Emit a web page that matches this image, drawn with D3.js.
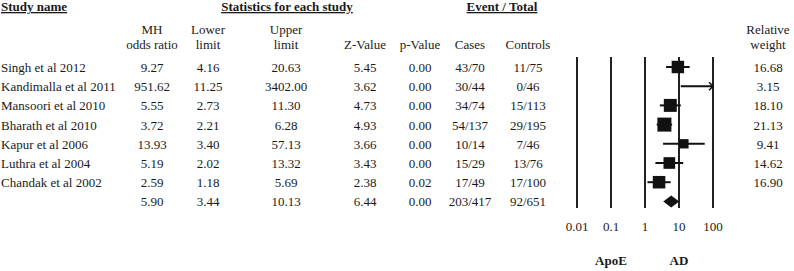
<!DOCTYPE html>
<html>
<head>
<meta charset="utf-8">
<script src="https://cdn.jsdelivr.net/npm/d3@7"></script>
<style>
  body { margin: 0; background: #fff; }
  text { font-family: "Liberation Serif", "Times New Roman", serif; fill: #1a1a1a; }
</style>
</head>
<body>
<div id="graph"></div>
<script>
const width = 794
const height = 271

// data
const studies = ['Singh et al 2012', 'Kandimalla et al 2011', 'Mansoori et al 2010', 'Bharath et al 2010',
  'Kapur et al 2006', 'Luthra et al 2004', 'Chandak et al 2002']
const oddsRatio = [9.27, 951.62, 5.55, 3.72, 13.93, 5.19, 2.59]
const lower = [4.16, 11.25, 2.73, 2.21, 3.40, 2.02, 1.18]
const upper = [20.63, 3402.00, 11.30, 6.28, 57.13, 13.32, 5.69]
const zValue = [5.45, 3.62, 4.73, 4.93, 3.66, 3.43, 2.38]
const pValue = [0.00, 0.00, 0.00, 0.00, 0.00, 0.00, 0.02]
const cases = ['43/70', '30/44', '34/74', '54/137', '10/14', '15/29', '17/49']
const controls = ['11/75', '0/46', '15/113', '29/195', '7/46', '13/76', '17/100']
const weight = [16.68, 3.15, 18.10, 21.13, 9.41, 14.62, 16.90]
const pooled = {or: 5.90, lower: 3.44, upper: 10.13, z: 6.44, p: 0.00, cases: '203/417', controls: '92/651'}
const ticks = [0.01, 0.1, 1, 10, 100]

const svg = d3.select('#graph').append('svg')
  .attr('width', width)
  .attr('height', height)

const x = d3.scaleLog().domain([0.01, 100]).range([577, 713])
const row = d3.scaleLinear().domain([0, 1]).range([72, 91.2]) // baseline of each row
const size = d3.scaleSqrt().domain([0, 21.13]).range([0, 14])

const fmt = d3.format('.2f')

// headers
const bold = (t, xp, yp, anchor, underline) => {
  const el = svg.append('text').attr('x', xp).attr('y', yp)
    .attr('text-anchor', anchor).attr('font-size', 13).attr('font-weight', 'bold').text(t)
  if (underline) el.attr('text-decoration', 'underline')
}
bold('Study name', 1, 11, 'start', true)
bold('Statistics for each study', 287, 11, 'middle', true)
bold('Event / Total', 502, 11, 'middle', true)

const cols = [
  {x: 152, h: ['MH', 'odds ratio'], v: (i) => fmt(oddsRatio[i]), s: fmt(pooled.or)},
  {x: 208, h: ['Lower', 'limit'], v: (i) => fmt(lower[i]), s: fmt(pooled.lower)},
  {x: 286, h: ['Upper', 'limit'], v: (i) => fmt(upper[i]), s: fmt(pooled.upper)},
  {x: 365, h: ['', 'Z-Value'], v: (i) => fmt(zValue[i]), s: fmt(pooled.z)},
  {x: 420, h: ['', 'p-Value'], v: (i) => fmt(pValue[i]), s: fmt(pooled.p)},
  {x: 470, h: ['', 'Cases'], v: (i) => cases[i], s: pooled.cases},
  {x: 528, h: ['', 'Controls'], v: (i) => controls[i], s: pooled.controls},
  {x: 768, h: ['Relative', 'weight'], v: (i) => fmt(weight[i]), s: ''}
]

cols.forEach(c => {
  c.h.forEach((t, k) => {
    svg.append('text').attr('x', c.x).attr('y', 34 + k * 15)
      .attr('text-anchor', 'middle').attr('font-size', 13).text(t)
  })
  studies.forEach((s, i) => {
    svg.append('text').attr('x', c.x).attr('y', row(i))
      .attr('text-anchor', 'middle').attr('font-size', 13).text(c.v(i))
  })
  svg.append('text').attr('x', c.x).attr('y', row(studies.length))
    .attr('text-anchor', 'middle').attr('font-size', 13).text(c.s)
})

studies.forEach((s, i) => {
  svg.append('text').attr('x', 1).attr('y', row(i)).attr('font-size', 13).text(s)
})

// vertical reference lines
svg.selectAll('.vline').data(ticks).enter().append('line')
  .attr('x1', d => x(d)).attr('x2', d => x(d))
  .attr('y1', 57).attr('y2', 208)
  .attr('stroke', '#222').attr('stroke-width', 2)

svg.selectAll('.tick').data(ticks).enter().append('text')
  .attr('x', d => x(d)).attr('y', 231)
  .attr('text-anchor', 'middle').attr('font-size', 13).text(d => d)

// confidence intervals
const xmax = x.domain()[1]
studies.forEach((s, i) => {
  const cy = row(i) - 5
  const hi = Math.min(upper[i], xmax)
  svg.append('line')
    .attr('x1', x(lower[i])).attr('x2', x(hi))
    .attr('y1', cy).attr('y2', cy)
    .attr('stroke', '#111').attr('stroke-width', 2)
  if (upper[i] > xmax) {
    const ax = x(xmax)
    svg.append('path')
      .attr('d', `M${ax - 4},${cy - 4}L${ax},${cy}L${ax - 4},${cy + 4}`)
      .attr('fill', 'none').attr('stroke', '#111').attr('stroke-width', 1.5)
  }
  if (oddsRatio[i] <= xmax) {
    const w = size(weight[i])
    svg.append('rect')
      .attr('x', x(oddsRatio[i]) - w / 2).attr('y', cy - w / 2)
      .attr('width', w).attr('height', w)
      .attr('fill', '#111')
  }
})

// pooled diamond
const dy = row(studies.length) - 5
svg.append('path')
  .attr('d', `M${x(pooled.lower)},${dy}L${x(pooled.or)},${dy - 6}L${x(pooled.upper)},${dy}L${x(pooled.or)},${dy + 6}Z`)
  .attr('fill', '#111')

bold('ApoE', x(0.1), 265, 'middle', false)
bold('AD', x(10), 265, 'middle', false)
</script>
</body>
</html>
